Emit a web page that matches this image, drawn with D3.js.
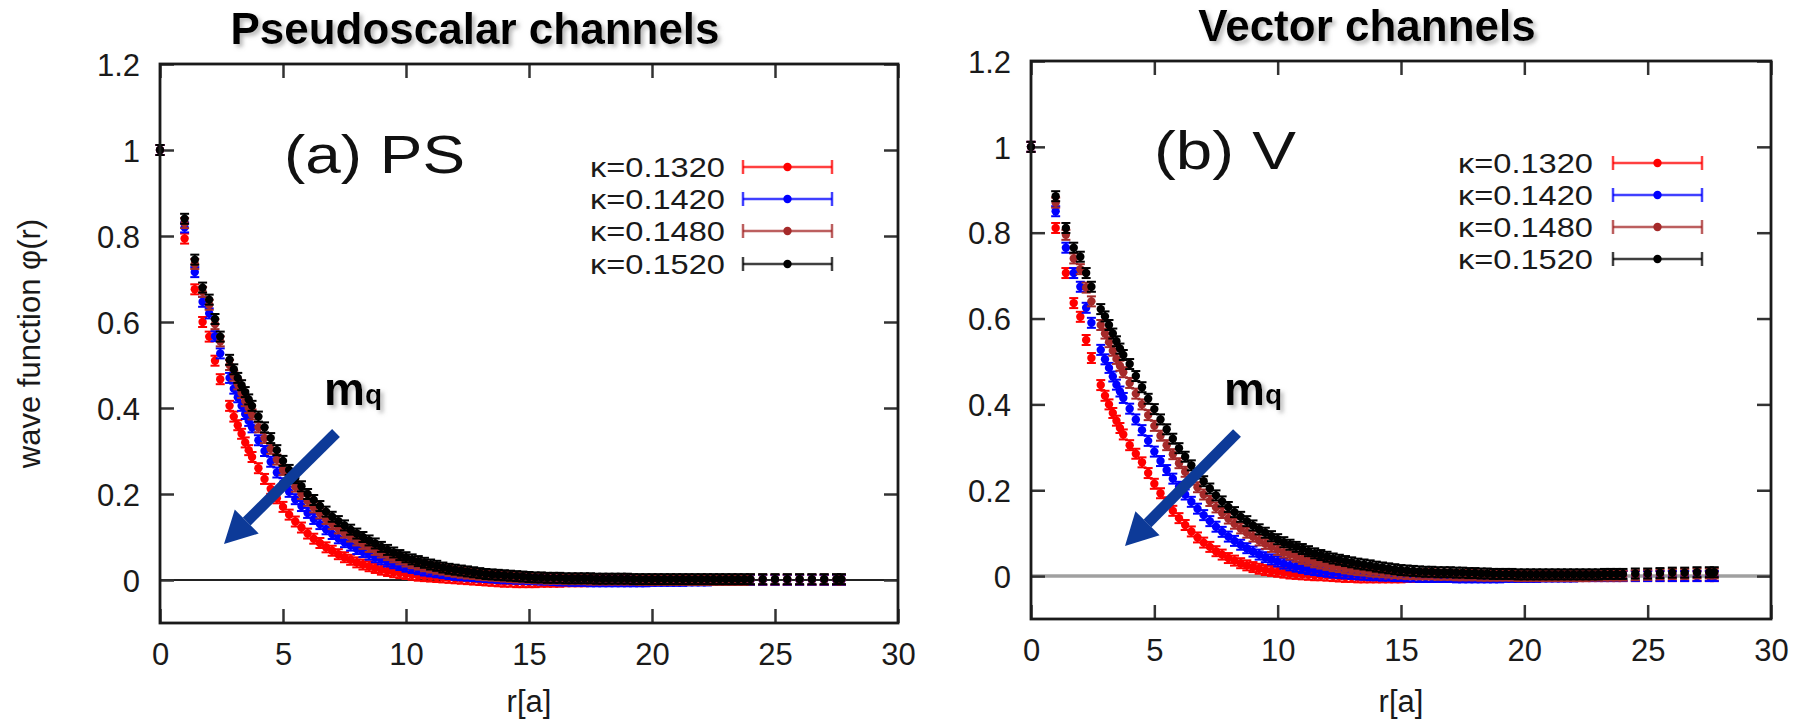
<!DOCTYPE html>
<html><head><meta charset="utf-8">
<script src="https://cdn.jsdelivr.net/npm/d3@7/dist/d3.min.js"></script>
<style>body{margin:0;background:#fff}svg{display:block}</style>
</head><body>
<svg id="c" width="1806" height="722"></svg>
<script>
// ---------- data ----------
const R = [0, 1, 1.414, 1.732, 2, 2.236, 2.449, 2.828, 3, 3.162, 3.317, 3.464, 3.606, 3.742,
  4, 4.25, 4.5, 4.75, 5, 5.25, 5.5, 5.75, 6, 6.25, 6.5, 6.75, 7, 7.25, 7.5, 7.75,
  8, 8.25, 8.5, 8.75, 9, 9.25, 9.5, 9.75, 10, 10.25, 10.5, 10.75, 11, 11.25, 11.5, 11.75,
  12, 12.25, 12.5, 12.75, 13, 13.25, 13.5, 13.75, 14, 14.25, 14.5, 14.75, 15, 15.25, 15.5, 15.75, 16,
  16.25, 16.5, 16.75, 17, 17.25, 17.5, 17.75, 18, 18.25, 18.5, 18.75, 19, 19.25, 19.5, 19.75, 20,
  20.25, 20.5, 20.75, 21, 21.25, 21.5, 21.75, 22, 22.25, 22.5, 22.75, 23, 23.25, 23.5, 23.75, 24,
  24.5, 25, 25.5, 26, 26.5, 27, 27.5, 27.7];

const kappaLabels = ["κ=0.1320", "κ=0.1420", "κ=0.1480", "κ=0.1520"];

// (a) PS
const PS_k1320 = [1, 0.794, 0.676, 0.600, 0.566, 0.510, 0.467, 0.405, 0.380, 0.360, 0.340, 0.320, 0.302, 0.286,
  0.260, 0.235, 0.212, 0.190, 0.170, 0.152, 0.136, 0.122, 0.108, 0.096, 0.086, 0.076, 0.068, 0.060, 0.053, 0.047,
  0.041, 0.036, 0.032, 0.028, 0.024, 0.021, 0.018, 0.016, 0.014, 0.012, 0.010, 0.009, 0.008, 0.007, 0.006, 0.005,
  0.004, 0.003, 0.002, 0.001, 0.000, -0.001, -0.002, -0.003, -0.004, -0.004, -0.005, -0.005, -0.005, -0.005, -0.004, -0.004, -0.004,
  -0.004, -0.003, -0.003, -0.003, -0.003, -0.002, -0.002, -0.002, -0.002, -0.002, -0.001, -0.001, -0.001, -0.001, -0.001, -0.001,
  0, 0, 0, 0, 0, 0, 0, 0, 0, 0, 0, 0, 0, 0, 0, 0,
  0, 0, 0, 0, 0, 0, 0, 0];
const PS_k1420 = [1, 0.820, 0.716, 0.647, 0.620, 0.567, 0.527, 0.470, 0.445, 0.425, 0.405, 0.386, 0.370, 0.355,
  0.325, 0.300, 0.275, 0.250, 0.225, 0.205, 0.188, 0.172, 0.156, 0.142, 0.130, 0.118, 0.107, 0.097, 0.088, 0.080,
  0.072, 0.065, 0.059, 0.053, 0.048, 0.043, 0.039, 0.035, 0.031, 0.028, 0.025, 0.022, 0.020, 0.018, 0.016, 0.014,
  0.012, 0.011, 0.010, 0.009, 0.008, 0.007, 0.006, 0.005, 0.004, 0.004, 0.003, 0.003, 0.002, 0.002, 0.001, 0.001, 0.000,
  -0.001, -0.001, -0.002, -0.002, -0.002, -0.003, -0.003, -0.003, -0.003, -0.003, -0.003, -0.003, -0.003, -0.003, -0.003, -0.002,
  -0.002, -0.002, -0.002, -0.002, -0.002, -0.001, -0.001, -0.001, -0.001, 0, 0, 0, 0, 0, 0, 0,
  0, 0, 0, 0, 0, 0, 0, 0];
const PS_k1480 = [1, 0.830, 0.735, 0.670, 0.640, 0.595, 0.555, 0.500, 0.475, 0.455, 0.435, 0.416, 0.400, 0.385,
  0.355, 0.330, 0.305, 0.280, 0.256, 0.236, 0.217, 0.200, 0.184, 0.169, 0.155, 0.142, 0.130, 0.120, 0.110, 0.101,
  0.092, 0.084, 0.077, 0.070, 0.064, 0.058, 0.053, 0.048, 0.043, 0.039, 0.036, 0.032, 0.029, 0.026, 0.024, 0.021,
  0.019, 0.017, 0.015, 0.014, 0.012, 0.011, 0.010, 0.009, 0.008, 0.007, 0.006, 0.006, 0.005, 0.004, 0.004, 0.003, 0.003,
  0.003, 0.002, 0.002, 0.002, 0.002, 0.001, 0.001, 0.001, 0.001, 0.001, 0.001, 0.001, 0.001, 0, 0, 0,
  0, 0, 0, 0, 0, 0, 0, 0, 0, 0, 0, 0, 0, 0, 0, 0.001,
  0.001, 0.001, 0.001, 0.001, 0.001, 0.001, 0.001, 0.001];
const PS_k1520 = [1, 0.840, 0.745, 0.680, 0.652, 0.607, 0.566, 0.512, 0.490, 0.470, 0.453, 0.437, 0.420, 0.405,
  0.380, 0.355, 0.330, 0.302, 0.277, 0.256, 0.237, 0.218, 0.200, 0.186, 0.172, 0.159, 0.147, 0.137, 0.127, 0.117,
  0.108, 0.100, 0.092, 0.085, 0.077, 0.070, 0.064, 0.058, 0.053, 0.048, 0.044, 0.040, 0.036, 0.033, 0.029, 0.026,
  0.024, 0.022, 0.020, 0.018, 0.016, 0.014, 0.013, 0.012, 0.011, 0.010, 0.009, 0.008, 0.007, 0.006, 0.006, 0.005, 0.005,
  0.005, 0.004, 0.004, 0.004, 0.004, 0.004, 0.003, 0.003, 0.003, 0.003, 0.003, 0.003, 0.002, 0.002, 0.002, 0.002,
  0.002, 0.002, 0.002, 0.002, 0.002, 0.002, 0.002, 0.002, 0.002, 0.002, 0.002, 0.002, 0.002, 0.002, 0.002, 0.002,
  0.002, 0.002, 0.002, 0.002, 0.002, 0.002, 0.002, 0.002];

// (b) V
const V_k1320 = [1, 0.811, 0.706, 0.636, 0.604, 0.550, 0.508, 0.445, 0.420, 0.400, 0.380, 0.362, 0.345, 0.330,
  0.305, 0.285, 0.265, 0.240, 0.215, 0.193, 0.172, 0.152, 0.135, 0.119, 0.104, 0.090, 0.078, 0.068, 0.058, 0.050,
  0.042, 0.036, 0.030, 0.025, 0.021, 0.017, 0.014, 0.012, 0.010, 0.008, 0.006, 0.005, 0.004, 0.003, 0.002, 0.002,
  0.001, 0.000, -0.001, -0.002, -0.002, -0.003, -0.003, -0.003, -0.003, -0.003, -0.003, -0.003, -0.003, -0.002, -0.002, -0.002, -0.002,
  -0.002, -0.002, -0.002, -0.002, -0.001, -0.001, -0.001, -0.001, -0.001, -0.001, 0, 0, 0, 0, 0, 0,
  0, 0, 0, 0, 0, 0, 0, 0, 0, 0, 0, 0, 0, 0, 0, 0,
  0, 0, 0, 0, 0, 0, 0, 0];
const V_k1420 = [1, 0.850, 0.765, 0.706, 0.674, 0.625, 0.590, 0.527, 0.505, 0.485, 0.465, 0.446, 0.430, 0.415,
  0.390, 0.365, 0.340, 0.315, 0.290, 0.268, 0.247, 0.227, 0.208, 0.190, 0.173, 0.157, 0.142, 0.128, 0.115, 0.103,
  0.092, 0.082, 0.073, 0.065, 0.057, 0.050, 0.044, 0.039, 0.034, 0.029, 0.025, 0.022, 0.019, 0.016, 0.014, 0.012,
  0.010, 0.008, 0.007, 0.006, 0.005, 0.004, 0.003, 0.002, 0.002, 0.001, 0.001, 0.000, 0.000, -0.001, -0.001, -0.002, -0.002,
  -0.002, -0.002, -0.002, -0.002, -0.003, -0.003, -0.003, -0.003, -0.003, -0.003, -0.003, -0.003, -0.002, -0.002, -0.002, -0.002,
  -0.002, -0.002, -0.001, -0.001, -0.001, -0.001, -0.001, -0.001, 0, 0, 0, 0, 0, 0, 0, 0,
  0, 0, 0, 0, 0, 0, 0, 0];
const V_k1480 = [1, 0.870, 0.795, 0.740, 0.715, 0.672, 0.640, 0.585, 0.565, 0.545, 0.525, 0.506, 0.490, 0.475,
  0.450, 0.425, 0.400, 0.375, 0.350, 0.327, 0.305, 0.284, 0.263, 0.243, 0.225, 0.207, 0.190, 0.175, 0.160, 0.147,
  0.134, 0.122, 0.111, 0.101, 0.092, 0.083, 0.075, 0.068, 0.061, 0.055, 0.050, 0.045, 0.040, 0.036, 0.032, 0.029,
  0.026, 0.023, 0.021, 0.018, 0.016, 0.014, 0.013, 0.011, 0.010, 0.009, 0.008, 0.007, 0.006, 0.005, 0.005, 0.004, 0.004,
  0.004, 0.003, 0.003, 0.003, 0.002, 0.002, 0.002, 0.002, 0.001, 0.001, 0.001, 0.001, 0.001, 0.001, 0, 0,
  0, 0, 0, 0, 0, 0, 0, 0, 0, 0, 0.001, 0.001, 0.001, 0.001, 0.001, 0.001,
  0.002, 0.003, 0.004, 0.005, 0.005, 0.006, 0.006, 0.006];
const V_k1520 = [1, 0.885, 0.811, 0.765, 0.744, 0.706, 0.674, 0.622, 0.605, 0.585, 0.565, 0.547, 0.530, 0.515,
  0.494, 0.466, 0.440, 0.413, 0.389, 0.365, 0.342, 0.320, 0.298, 0.278, 0.258, 0.239, 0.221, 0.204, 0.188, 0.174,
  0.161, 0.149, 0.138, 0.128, 0.118, 0.109, 0.101, 0.093, 0.086, 0.079, 0.073, 0.068, 0.063, 0.058, 0.053, 0.049,
  0.045, 0.041, 0.038, 0.035, 0.032, 0.029, 0.027, 0.025, 0.022, 0.020, 0.018, 0.016, 0.014, 0.013, 0.012, 0.011, 0.010,
  0.010, 0.009, 0.009, 0.009, 0.008, 0.008, 0.007, 0.007, 0.006, 0.006, 0.005, 0.005, 0.005, 0.005, 0.004, 0.004,
  0.004, 0.004, 0.004, 0.004, 0.004, 0.004, 0.004, 0.004, 0.004, 0.004, 0.004, 0.004, 0.005, 0.005, 0.005, 0.005,
  0.006, 0.006, 0.007, 0.008, 0.008, 0.009, 0.009, 0.009];

const xTicks = [0, 5, 10, 15, 20, 25, 30];
const yTicks = [0, 0.2, 0.4, 0.6, 0.8, 1, 1.2];
const yTickLabels = ["0", "0.2", "0.4", "0.6", "0.8", "1", "1.2"];
const seriesColors = ["#ff0000", "#0000ff", "#a52a2a", "#000000"];

// ---------- drawing ----------
const svg = d3.select("#c");
const FONT = "'Liberation Sans', Arial, Helvetica, sans-serif";

const defs = svg.append("defs");
const sh = defs.append("filter").attr("id", "shadow").attr("x", "-10%").attr("y", "-30%").attr("width", "130%").attr("height", "180%");
sh.append("feDropShadow").attr("dx", 3).attr("dy", 3).attr("stdDeviation", 2).attr("flood-color", "#888").attr("flood-opacity", 0.6);

const panels = [
  {box: [160, 898, 64, 623], series: [PS_k1320, PS_k1420, PS_k1480, PS_k1520],
   title: "Pseudoscalar channels", titleX: 475, titleY: 44, tag: "(a) PS", tagX: 284, tagY: 173, tagLen: 181,
   legendTextX: 725, legendLine: [743, 832], legendY: [167, 199, 231, 264],
   zeroStroke: "#222", zeroWidth: 2, mqX: 324, arrow: [336, 433, 224, 544], ylabel: true},
  {box: [1031, 1771, 61, 619], series: [V_k1320, V_k1420, V_k1480, V_k1520],
   title: "Vector channels", titleX: 1367, titleY: 41, tag: "(b) V", tagX: 1154, tagY: 169, tagLen: 142,
   legendTextX: 1593, legendLine: [1613, 1702], legendY: [163, 195, 227, 259],
   zeroStroke: "#a0a0a0", zeroWidth: 3.5, mqX: 1224, arrow: [1237, 433, 1125, 546], ylabel: false}
];

panels.forEach(p => {
  const [x0, x1, y0, y1] = p.box;
  const x = d3.scaleLinear().domain([0, 30]).range([x0, x1]);
  const y = d3.scaleLinear().domain([-0.1, 1.2]).range([y1, y0]);
  const g = svg.append("g");

  // zero line
  g.append("line").attr("x1", x0).attr("x2", x1).attr("y1", y(0)).attr("y2", y(0))
    .attr("stroke", p.zeroStroke).attr("stroke-width", p.zeroWidth);

  // axes with inward ticks on all sides
  const tl = 14;
  const axB = d3.axisBottom(x).tickValues(xTicks).tickSize(-tl).tickFormat(d3.format("d"));
  const axT = d3.axisTop(x).tickValues(xTicks).tickSize(-tl).tickFormat("");
  const axL = d3.axisLeft(y).tickValues(yTicks).tickSize(-tl).tickFormat((d, i) => yTickLabels[i]);
  const axR = d3.axisRight(y).tickValues(yTicks).tickSize(-tl).tickFormat("");
  const styleAx = sel => {
    sel.select(".domain").remove();
    sel.selectAll(".tick line").attr("stroke", "#333").attr("stroke-width", 2.5);
    sel.selectAll(".tick text").attr("font-family", FONT).attr("font-size", 31).attr("fill", "#1a1a1a");
  };
  g.append("g").attr("transform", `translate(0,${y1})`).call(axB).call(styleAx)
    .selectAll(".tick text").attr("dy", "0.32em").attr("y", 32);
  g.append("g").attr("transform", `translate(0,${y0})`).call(axT).call(styleAx);
  g.append("g").attr("transform", `translate(${x0},0)`).call(axL).call(styleAx)
    .selectAll(".tick text").attr("x", -20).attr("dy", "0.36em");
  g.append("g").attr("transform", `translate(${x1},0)`).call(axR).call(styleAx);

  // data points with error bars
  p.series.forEach((vals, si) => {
    const col = seriesColors[si];
    const pts = vals.map((v, i) => ({r: R[i], v})).filter(d => d.r !== undefined);
    const sg = g.append("g").attr("fill", col).attr("stroke", col);
    sg.selectAll("line.eb").data(pts).join("line").attr("class", "eb")
      .attr("x1", d => x(d.r)).attr("x2", d => x(d.r))
      .attr("y1", d => y(d.v) - 5).attr("y2", d => y(d.v) + 5).attr("stroke-width", 2);
    sg.selectAll("line.ct").data(pts).join("line").attr("class", "ct")
      .attr("x1", d => x(d.r) - 4.5).attr("x2", d => x(d.r) + 4.5)
      .attr("y1", d => y(d.v) - 5).attr("y2", d => y(d.v) - 5).attr("stroke-width", 2);
    sg.selectAll("line.cb").data(pts).join("line").attr("class", "cb")
      .attr("x1", d => x(d.r) - 4.5).attr("x2", d => x(d.r) + 4.5)
      .attr("y1", d => y(d.v) + 5).attr("y2", d => y(d.v) + 5).attr("stroke-width", 2);
    sg.selectAll("circle").data(pts).join("circle")
      .attr("cx", d => x(d.r)).attr("cy", d => y(d.v)).attr("r", 4.2).attr("stroke", "none");
  });

  // frame
  g.append("rect").attr("x", x0).attr("y", y0).attr("width", x1 - x0).attr("height", y1 - y0)
    .attr("fill", "none").attr("stroke", "#1a1a1a").attr("stroke-width", 2.8);

  // legend
  kappaLabels.forEach((lab, i) => {
    const ly = p.legendY[i];
    const col = seriesColors[i];
    g.append("text").attr("x", p.legendTextX).attr("y", ly).attr("dy", "0.36em")
      .attr("text-anchor", "end").attr("font-family", FONT).attr("font-size", 28)
      .attr("textLength", 135).attr("lengthAdjust", "spacingAndGlyphs")
      .attr("fill", "#1a1a1a").text(lab);
    const [lx0, lx1] = p.legendLine;
    const lg = g.append("g").attr("stroke", col).attr("stroke-opacity", 0.75).attr("stroke-width", 2.5);
    lg.append("line").attr("x1", lx0).attr("x2", lx1).attr("y1", ly).attr("y2", ly);
    lg.append("line").attr("x1", lx0).attr("x2", lx0).attr("y1", ly - 7).attr("y2", ly + 7);
    lg.append("line").attr("x1", lx1).attr("x2", lx1).attr("y1", ly - 7).attr("y2", ly + 7);
    g.append("circle").attr("cx", (lx0 + lx1) / 2).attr("cy", ly).attr("r", 4.2).attr("fill", col);
  });

  // title
  svg.append("text").attr("x", p.titleX).attr("y", p.titleY).attr("text-anchor", "middle")
    .attr("font-family", FONT).attr("font-weight", "bold").attr("font-size", 44)
    .attr("fill", "#000").attr("filter", "url(#shadow)").text(p.title);

  // panel tag
  g.append("text").attr("x", p.tagX).attr("y", p.tagY).attr("font-family", FONT)
    .attr("font-size", 53).attr("textLength", p.tagLen).attr("lengthAdjust", "spacingAndGlyphs")
    .attr("fill", "#111").text(p.tag);

  // m_q
  const mq = g.append("text").attr("x", p.mqX).attr("y", 405).attr("font-family", FONT)
    .attr("font-weight", "bold").attr("fill", "#000").attr("filter", "url(#shadow)");
  mq.append("tspan").attr("font-size", 46).text("m");
  mq.append("tspan").attr("font-size", 28).attr("dy", -1).text("q");

  // arrow
  const [ax0, ay0, ax1, ay1] = p.arrow;
  const ang = Math.atan2(ay1 - ay0, ax1 - ax0);
  const hl = 32, hw = 17;
  const bx = ax1 - hl * Math.cos(ang), by = ay1 - hl * Math.sin(ang);
  g.append("line").attr("x1", ax0).attr("y1", ay0).attr("x2", bx).attr("y2", by)
    .attr("stroke", "#0d3a98").attr("stroke-width", 11);
  g.append("polygon").attr("fill", "#0d3a98").attr("points", [
    [ax1, ay1],
    [bx + hw * Math.sin(ang), by - hw * Math.cos(ang)],
    [bx - hw * Math.sin(ang), by + hw * Math.cos(ang)]
  ].map(d => d.join(",")).join(" "));

  // axis labels
  g.append("text").attr("x", (x0 + x1) / 2).attr("y", 712).attr("text-anchor", "middle")
    .attr("font-family", FONT).attr("font-size", 31).attr("fill", "#1a1a1a").text("r[a]");
  if (p.ylabel) {
    g.append("text").attr("transform", `translate(40,${(y0 + y1) / 2}) rotate(-90)`)
      .attr("text-anchor", "middle").attr("font-family", FONT).attr("font-size", 31)
      .attr("fill", "#1a1a1a").text("wave function φ(r)");
  }
});
</script>
</body></html>
